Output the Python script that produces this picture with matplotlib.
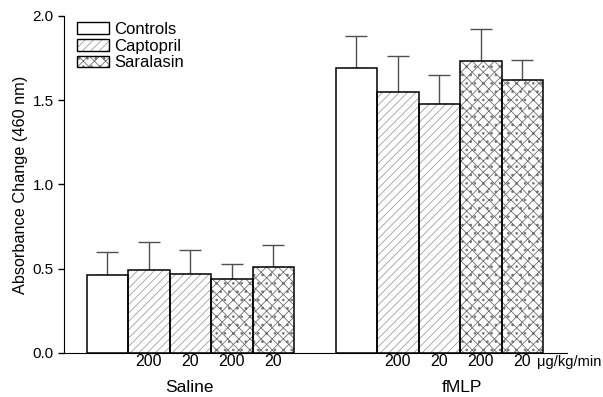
import matplotlib.pyplot as plt
from matplotlib.patches import Patch
from matplotlib.legend_handler import HandlerTuple

plt.rcParams['font.family'] = ['Liberation Sans', 'DejaVu Sans']
plt.rcParams['hatch.linewidth'] = 0.6

# Datos
groups = ["Saline", "fMLP"]
treatments = ["Controls", "Captopril", "Captopril", "Saralasin", "Saralasin"]
dose_labels = ["", "200", "20", "200", "20"]
saline_mean = [0.46, 0.49, 0.47, 0.44, 0.51]
saline_top = [0.60, 0.66, 0.61, 0.53, 0.64]
fmlp_mean = [1.69, 1.55, 1.48, 1.73, 1.62]
fmlp_top = [1.88, 1.76, 1.65, 1.92, 1.74]

hatches = {"Controls": "", "Captopril": "////", "Saralasin": "xxx.."}
hcolors = {"Controls": "white", "Captopril": "#a0a0a0", "Saralasin": "#707070"}

fig = plt.figure(figsize=(6.03, 3.97), dpi=100)
ax = fig.add_axes([0.106, 0.111, 0.834, 0.849])

for g, (means, tops) in enumerate([(saline_mean, saline_top), (fmlp_mean, fmlp_top)]):
    x0 = g * 6
    for i, (m, t) in enumerate(zip(means, tops)):
        tr = treatments[i]
        x = x0 + i
        ax.errorbar(x, m, yerr=[[0], [t - m]], color="#505050", lw=1,
                    capsize=8, capthick=1, zorder=1)
        ax.bar(x, m, width=1, color="white", hatch=hatches[tr],
               edgecolor=hcolors[tr], linewidth=0, zorder=2)
        ax.bar(x, m, width=1, fill=False, edgecolor="black", linewidth=1.1, zorder=3)
        if dose_labels[i]:
            ax.text(x, -0.053, dose_labels[i], ha="center", va="center", fontsize=11.5)
ax.text(10.35, -0.053, "\u03bcg/kg/min", ha="left", va="center", fontsize=10.5)

ax.text(1.98, -0.208, "Saline", ha="center", va="center", fontsize=12.5)
ax.text(8.54, -0.208, "fMLP", ha="center", va="center", fontsize=12.5)

ax.set_xlim(-1.05, 11.07)
ax.set_ylim(0, 2.0)
ax.set_yticks([0.0, 0.5, 1.0, 1.5, 2.0])
ax.set_yticklabels(["0.0", "0.5", "1.0", "1.5", "2.0"], fontsize=11)
ax.set_xticks([])
ax.tick_params(axis="y", direction="out", length=4, width=1)
ax.spines["top"].set_visible(False)
ax.spines["right"].set_visible(False)
ax.set_ylabel("Absorbance Change (460 nm)", fontsize=11.7, labelpad=3)

handles = []
for tr in ["Controls", "Captopril", "Saralasin"]:
    p1 = Patch(facecolor="white", hatch=hatches[tr], edgecolor=hcolors[tr], linewidth=0)
    p2 = Patch(fill=False, edgecolor="black", linewidth=1)
    handles.append((p1, p2))
ax.legend(handles, ["Controls", "Captopril", "Saralasin"],
          handler_map={tuple: HandlerTuple(ndivide=1, pad=0)},
          loc="upper left", bbox_to_anchor=(0.006, 1.012), frameon=False,
          fontsize=12, handlelength=1.9, handleheight=0.7,
          labelspacing=0.1, handletextpad=0.35, borderaxespad=0.2)

fig.savefig("out.png", dpi=100)
